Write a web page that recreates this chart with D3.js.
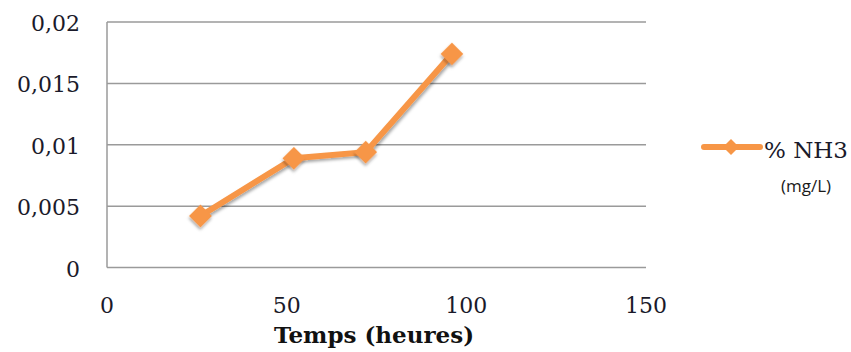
<!DOCTYPE html>
<html><head><meta charset="utf-8">
<script src="https://cdn.jsdelivr.net/npm/d3@7"></script>
<style>body{margin:0;background:#fff}svg{display:block}</style>
</head><body>
<svg id="c" width="851" height="352"></svg>
<script>
const hours = [26, 52, 72, 96];
const nh3 = [0.0042, 0.0089, 0.0094, 0.0174];
const xTicks = [0, 50, 100, 150];
const yTicks = [0, 0.005, 0.01, 0.015, 0.02];
const yTickLabels = ["0", "0,005", "0,01", "0,015", "0,02"];
const seriesName = "% NH3";
const seriesUnit = "(mg/L)";
const xTitle = "Temps (heures)";

const svg = d3.select("#c");
const x = d3.scaleLinear().domain([0,150]).range([107,646]);
const y = d3.scaleLinear().domain([0,0.02]).range([267.5,22]);
const color = "#F79646";
const serif = "DejaVu Serif";

const defs = svg.append("defs");
const f = defs.append("filter").attr("id","sh").attr("x","-50%").attr("y","-50%").attr("width","200%").attr("height","200%");
f.append("feDropShadow").attr("dx",1.5).attr("dy",2).attr("stdDeviation",1.5).attr("flood-color","#000").attr("flood-opacity",0.35);

// gridlines
svg.append("g").selectAll("line").data(yTicks).join("line")
  .attr("x1",x(0)).attr("x2",x(150)).attr("y1",d=>y(d)).attr("y2",d=>y(d))
  .attr("stroke","#9a9a9a").attr("stroke-width",1.5);
// y axis line
svg.append("line").attr("x1",x(0)).attr("x2",x(0)).attr("y1",y(0.02)).attr("y2",y(0))
  .attr("stroke","#9a9a9a").attr("stroke-width",1.5);

// y tick labels
svg.append("g").selectAll("text").data(yTicks).join("text")
  .attr("x",80).attr("y",d=>y(d)+9).attr("text-anchor","end")
  .attr("font-family",serif).attr("font-size",22).attr("fill","#1a1a2a")
  .text((d,i)=>yTickLabels[i]);
// x tick labels
svg.append("g").selectAll("text").data(xTicks).join("text")
  .attr("x",d=>x(d)).attr("y",313).attr("text-anchor","middle")
  .attr("font-family",serif).attr("font-size",22).attr("fill","#1a1a2a")
  .text(d=>d);
// x title
svg.append("text").attr("x",374).attr("y",343).attr("text-anchor","middle")
  .attr("font-family",serif).attr("font-size",23).attr("font-weight","bold").attr("fill","#111")
  .text(xTitle);

const pts = hours.map((h,i)=>[h,nh3[i]]);
const line = d3.line().x(d=>x(d[0])).y(d=>y(d[1]));
svg.append("path").datum(pts).attr("d",line).attr("fill","none")
  .attr("stroke",color).attr("stroke-width",6).attr("stroke-linejoin","round").attr("filter","url(#sh)");
const sym = d3.symbol().type(d3.symbolSquare).size(260);
svg.append("g").selectAll("path").data(pts).join("path")
  .attr("d",sym).attr("transform",d=>`translate(${x(d[0])},${y(d[1])}) rotate(45)`)
  .attr("fill",color).attr("filter","url(#sh)");

// legend
const lg = svg.append("g");
lg.append("line").attr("x1",704).attr("x2",760).attr("y1",147).attr("y2",147)
  .attr("stroke",color).attr("stroke-width",6).attr("stroke-linecap","round");
lg.append("path").attr("d",d3.symbol().type(d3.symbolSquare).size(130)).attr("transform","translate(731,147) rotate(45)").attr("fill",color);
lg.append("text").attr("x",764).attr("y",158).attr("font-family",serif).attr("font-size",23).attr("fill","#1a1a2a").text(seriesName);
lg.append("text").attr("x",781).attr("y",192).attr("font-family","Open Sans").attr("font-size",17).attr("fill","#1a1a1a").text(seriesUnit);
</script>
</body></html>
